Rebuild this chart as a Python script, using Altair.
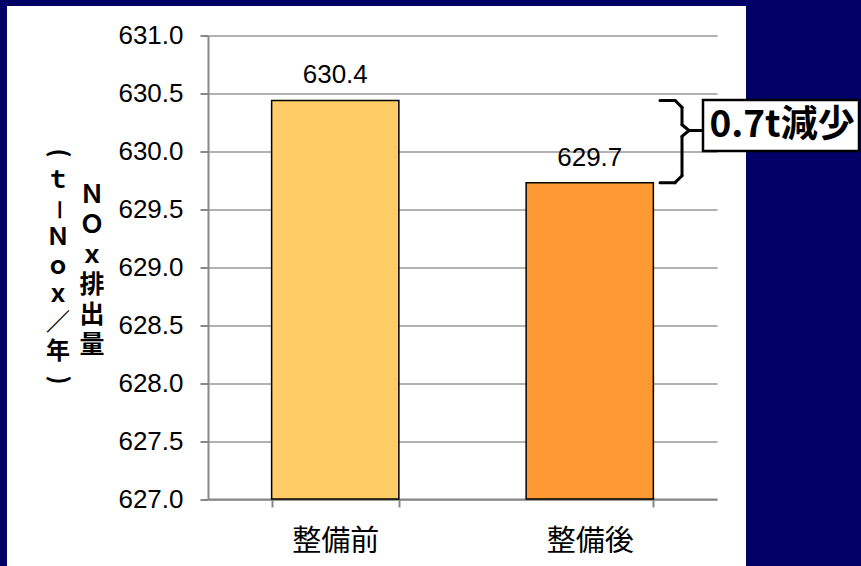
import altair as alt
import pandas as pd

# ---- data ----
categories = ["整備前", "整備後"]
values = [630.44, 629.73]
bar_colors = ["#FFCC66", "#FF9933"]
y_ticks = [627.0, 627.5, 628.0, 628.5, 629.0, 629.5, 630.0, 630.5, 631.0]
y_min, y_max = 627.0, 631.0
# vertical title columns: (character, rotation)
title_col1 = [("(", 90), ("ｔ", 0), ("－", 90), ("Ｎ", 0), ("ｏ", 0), ("ｘ", 0),
              ("／", 0), ("年", 0), (")", 90)]
title_col2 = [("Ｎ", 0), ("Ｏ", 0), ("ｘ", 0), ("排", 0), ("出", 0), ("量", 0)]
annotation = "0.7t減少"

NAVY = "#000066"
GRID = "#999999"
AXC = "#888888"

df = pd.DataFrame({
    "cat": categories,
    "val": values,
    "base": [y_min] * len(values),
    "color": bar_colors,
    "label": [f"{v:.1f}" for v in values],
})

W, H = 509, 463.5
blank = alt.Data(values=[{"a": 1}])

x_axis = alt.Axis(labelAngle=0, labelFont="Noto Sans CJK JP", labelFontSize=29,
                  labelColor="black", tickBand="extent", tickSize=8, tickColor=AXC,
                  tickWidth=2, domainColor=AXC, domainWidth=2, labelPadding=20,
                  title=None, grid=False)
y_axis = alt.Axis(values=y_ticks, format=".1f", labelFont="Liberation Sans",
                  labelFontSize=26, labelColor="black", tickColor=AXC, tickWidth=2,
                  domainColor=AXC, domainWidth=2, gridColor=GRID, gridWidth=1.5,
                  tickSize=8, labelPadding=17, title=None)
x_scale = alt.Scale(paddingInner=0.5, paddingOuter=0.25)
y_scale = alt.Scale(domain=[y_min, y_max], zero=False, nice=False)

bars = alt.Chart(df).mark_bar(stroke="black", strokeWidth=1.5).encode(
    x=alt.X("cat:N", sort=categories, scale=x_scale, axis=x_axis),
    y=alt.Y("val:Q", scale=y_scale, axis=y_axis),
    y2="base:Q",
    color=alt.Color("color:N", scale=None),
)

labels = alt.Chart(df).mark_text(font="Liberation Sans", fontSize=26,
                                 baseline="alphabetic", dy=-17, color="black").encode(
    x=alt.X("cat:N", sort=categories),
    y="val:Q",
    text="label:N",
)

def rect(x0, x1, y0, y1, **kw):
    return alt.Chart(blank).mark_rect(**kw).encode(
        x=alt.value(x0), x2=alt.value(x1), y=alt.value(y0), y2=alt.value(y1))

navy_left = rect(-208, -201, -36, 531, color=NAVY)
navy_top = rect(-208, 653, -36, -29.5, color=NAVY)
navy_right = rect(538, 653, -36, 531, color=NAVY)

# bracket between the two bar tops
v1, v2 = values
tip = v1 - 0.26
segs = [
    (452, 467, v1, v1),
    (467, 474, v1, v1 - 0.06),
    (474, 474, v1 - 0.06, tip + 0.05),
    (474, 481, tip + 0.05, tip),
    (481, 495, tip, tip),
    (481, 474, tip, tip - 0.05),
    (474, 474, tip - 0.05, v2 + 0.06),
    (474, 467, v2 + 0.06, v2),
    (467, 452, v2, v2),
]
bracket = [
    alt.Chart(blank).mark_rule(color="black", strokeWidth=3, strokeCap="round").encode(
        x=alt.value(a), x2=alt.value(b), y=alt.datum(c), y2=alt.datum(d))
    for a, b, c, d in segs
]

box = rect(495, 651, 64.5, 115.5, fill="white", stroke="black", strokeWidth=2.5)
box_text = alt.Chart(blank).mark_text(font="Noto Sans CJK JP", fontWeight="bold",
                                      fontSize=37, color="black", baseline="middle",
                                      align="center").encode(
    x=alt.value(574), y=alt.value(90), text=alt.value(annotation))

def column(chars, x, y0, step, size):
    layers = []
    for i, (ch, ang) in enumerate(chars):
        kw = dict(font="Noto Sans CJK JP", fontWeight="bold", fontSize=size,
                  color="black", baseline="middle", align="center")
        if ang:
            kw["angle"] = ang
        layers.append(alt.Chart(blank).mark_text(**kw).encode(
            x=alt.value(x), y=alt.value(y0 + i * step), text=alt.value(ch)))
    return layers

# column 1: from page y 153 to 380, column 2: page y 195 to 343
col1 = column(title_col1, -150, 153 - 35.5, (380 - 153) / 8, 24)
col2 = column(title_col2, -116, 195 - 35.5, (345 - 195) / 5, 25)

chart = alt.layer(
    navy_left, navy_top, navy_right, bars, labels, *bracket, box, box_text, *col1, *col2
).properties(
    width=W, height=H,
    padding={"left": 208, "top": 35.5, "right": 144, "bottom": 67},
    autosize="none",
    background="white",
).configure_view(stroke=None)

chart.save("out.html", embed_options={"renderer": "svg", "actions": False})
